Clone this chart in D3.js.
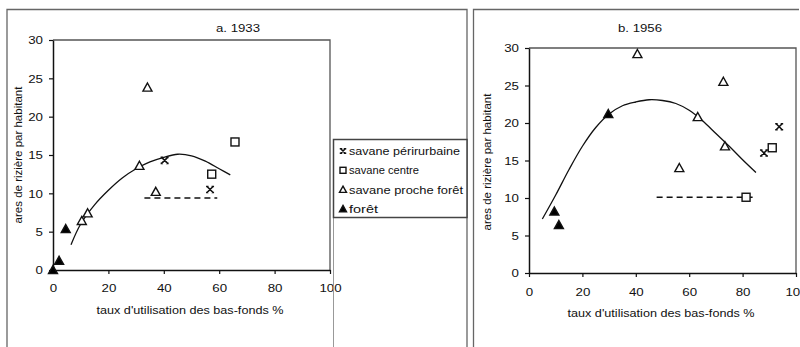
<!DOCTYPE html>
<html>
<head>
<meta charset="utf-8">
<script src="https://cdn.jsdelivr.net/npm/d3@7"></script>
<style>
  body { margin: 0; background: #fff; }
  svg { display: block; font-family: "Liberation Sans", Arial, sans-serif; }
  .tick text { font-size: 11.5px; fill: #111; }
  .axis-label { font-size: 11.5px; fill: #111; }
  .title { font-size: 11.5px; fill: #111; }
  .legend text { font-size: 11.5px; fill: #111; }
</style>
</head>
<body>
<svg id="chart" width="800" height="347"></svg>
<script>
// categories
const groups = ['savane périrurbaine', 'savane centre', 'savane proche forêt', 'forêt'];
const xTicks = [0, 20, 40, 60, 80, 100];
const yTicks = [0, 5, 10, 15, 20, 25, 30];

// a. 1933 (x = taux %, y = ares/hab)
const peri1933 = [[40.3, 14.3], [56.7, 10.5]];
const centre1933 = [[57.3, 12.5], [65.7, 16.7]];
const proche1933 = [[10.4, 6.4], [12.5, 7.4], [31.2, 13.6], [37.1, 10.2], [34.1, 23.8]];
const foret1933 = [[0, 0], [2.2, 1.2], [4.6, 5.35]];
const curve1933 = [[6.5, 3.3], [10, 6.0], [15, 8.5], [20, 10.4], [25, 12.0], [30, 13.2],
                   [35, 14.1], [40, 14.7], [45, 15.1], [50, 14.9], [55, 14.2], [60, 13.2], [64, 12.4]];
const dash1933 = [[33, 9.4], [59.3, 9.4]];

// b. 1956
const peri1956 = [[93.7, 19.5], [88, 16.0]];
const centre1956 = [[91.1, 16.7], [81.3, 10.1]];
const proche1956 = [[40.6, 29.2], [72.8, 25.5], [63.2, 20.8], [73.4, 16.9], [56.3, 14.0]];
const foret1956 = [[29.7, 21.2], [9.5, 8.2], [11.2, 6.4]];
const curve1956 = [[5, 7.2], [10, 10.4], [15, 13.8], [20, 16.9], [25, 19.4], [30, 21.2],
                   [35, 22.3], [40, 22.8], [45, 23.1], [50, 23.0], [55, 22.6], [60, 21.7],
                   [65, 20.3], [70, 18.6], [75, 16.9], [80, 15.1], [85, 13.4]];
const dash1956 = [[47.8, 10.1], [84.6, 10.1]];

const svg = d3.select('#chart');

// the scan is a bit stretched sideways, so texts get a fixed width
function stretch(sel, w) {
  sel.attr('textLength', w).attr('lengthAdjust', 'spacingAndGlyphs');
}

// outer frames
svg.append('path').attr('d', 'M7,347 V9.5 H467 V347')
  .attr('fill', 'none').attr('stroke', '#666').attr('stroke-width', 1.3);
svg.append('path').attr('d', 'M473.5,347 V9.5 H799')
  .attr('fill', 'none').attr('stroke', '#666').attr('stroke-width', 1.3);

// marker shapes
function marker(sel, type, s) {
  if (type === 0) {
    const h = s / 2;
    sel.append('path')
      .attr('d', `M${-h},${-h} L${h},${h} M${h},${-h} L${-h},${h} M${-h - 1},${-h} H${-h + 1.5} M${h - 1.5},${-h} H${h + 1} M${-h - 1},${h} H${-h + 1.5} M${h - 1.5},${h} H${h + 1}`)
      .attr('fill', 'none').attr('stroke', '#111').attr('stroke-width', 1.6);
  } else if (type === 1) {
    sel.append('rect').attr('x', -s / 2).attr('y', -s / 2).attr('width', s).attr('height', s)
      .attr('fill', '#fff').attr('stroke', '#111').attr('stroke-width', 1.4);
  } else {
    const h = s / 2;
    sel.append('path').attr('d', `M0,${-h} L${h},${h * 0.8} L${-h},${h * 0.8} Z`)
      .attr('fill', type === 3 ? '#000' : '#fff')
      .attr('stroke', '#111').attr('stroke-width', 1.4).attr('stroke-linejoin', 'miter');
  }
}

function drawPanel(cfg) {
  const x = d3.scaleLinear().domain([0, 100]).range(cfg.xr);
  const y = d3.scaleLinear().domain([0, 30]).range(cfg.yr);
  const g = svg.append('g');

  // plot box top/right
  g.append('path')
    .attr('d', `M${cfg.xr[0]},${cfg.yr[1]} H${cfg.xr[1]} V${cfg.yr[0]}`)
    .attr('fill', 'none').attr('stroke', '#555').attr('stroke-width', 1.3);

  const xAxis = d3.axisBottom(x).tickValues(xTicks).tickSize(4).tickPadding(cfg.xPad).tickSizeOuter(0);
  const yAxis = d3.axisLeft(y).tickValues(yTicks).tickSize(4).tickPadding(6).tickSizeOuter(0);

  const xAxisG = g.append('g').attr('transform', `translate(0,${cfg.yr[0]})`).call(xAxis);
  const yAxisG = g.append('g').attr('transform', `translate(${cfg.xr[0]},0)`).call(yAxis);
  [xAxisG, yAxisG].forEach(a => {
    a.select('.domain').attr('stroke', '#111').attr('stroke-width', 1.5);
    a.selectAll('.tick line').attr('stroke', '#111').attr('stroke-width', 1.2);
    a.selectAll('.tick text').each(function (d) { stretch(d3.select(this), String(d).length * 7.4); });
  });

  stretch(g.append('text').attr('class', 'title')
    .attr('x', cfg.titleX).attr('y', 32).attr('text-anchor', 'middle').text(cfg.title), 44);

  stretch(g.append('text').attr('class', 'axis-label')
    .attr('x', cfg.xlabX).attr('y', cfg.yr[0] + 44)
    .attr('text-anchor', 'middle').text("taux d'utilisation des bas-fonds %"), 187);

  g.append('text').attr('class', 'axis-label')
    .attr('transform', `translate(${cfg.ylabX},${cfg.ylabY}) rotate(-90)`)
    .attr('text-anchor', 'middle').text('ares de rizière par habitant');

  // trend curve
  const line = d3.line().x(d => x(d[0])).y(d => y(d[1])).curve(d3.curveCatmullRom);
  g.append('path').datum(cfg.curve).attr('d', line)
    .attr('fill', 'none').attr('stroke', '#111').attr('stroke-width', 1.3);

  g.append('path').datum(cfg.dash).attr('d', d3.line().x(d => x(d[0])).y(d => y(d[1])))
    .attr('fill', 'none').attr('stroke', '#111').attr('stroke-width', 1.5)
    .attr('stroke-dasharray', '6,4');

  cfg.series.forEach((pts, i) => {
    g.selectAll(null).data(pts).enter().append('g')
      .attr('transform', d => `translate(${x(d[0])},${y(d[1])})`)
      .each(function () { marker(d3.select(this), i, i === 1 ? 8 : (i === 0 ? 6 : 9)); });
  });
}

drawPanel({
  xr: [53, 330], yr: [270, 40], xPad: 10, title: 'a. 1933', titleX: 238, xlabX: 190,
  ylabX: 22, ylabY: 155,
  curve: curve1933, dash: dash1933,
  series: [peri1933, centre1933, proche1933, foret1933]
});

drawPanel({
  xr: [529, 796], yr: [273, 48], xPad: 11, title: 'b. 1956', titleX: 640, xlabX: 661,
  ylabX: 491, ylabY: 162,
  curve: curve1956, dash: dash1956,
  series: [peri1956, centre1956, proche1956, foret1956]
});

// legend
const legendWidths = [111, 70, 114, 29];
const legend = svg.append('g').attr('class', 'legend');
legend.append('line').attr('x1', 333.5).attr('x2', 333.5).attr('y1', 217).attr('y2', 347)
  .attr('stroke', '#999').attr('stroke-width', 1);
legend.append('rect').attr('x', 333.5).attr('y', 139.5).attr('width', 133.5).attr('height', 78)
  .attr('fill', '#fff').attr('stroke', '#444').attr('stroke-width', 1.5);
groups.forEach((name, i) => {
  const row = legend.append('g').attr('transform', `translate(343,${151 + i * 19.3})`);
  marker(row, i, i === 1 ? 6 : (i === 0 ? 4.5 : 7));
  stretch(row.append('text').attr('x', 6).attr('y', 4).text(name), legendWidths[i]);
});
</script>
</body>
</html>
